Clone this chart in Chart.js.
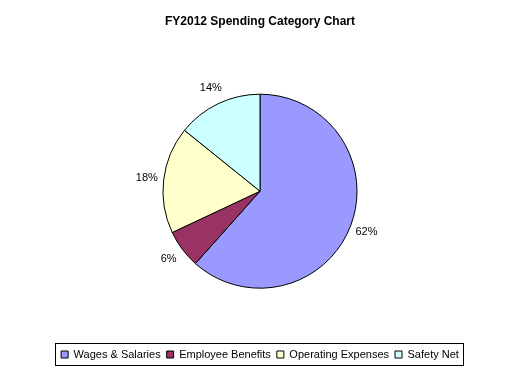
<!DOCTYPE html>
<html>
<head>
<meta charset="utf-8">
<script src="https://cdn.jsdelivr.net/npm/chart.js@4/dist/chart.umd.min.js"></script>
<style>
  html, body { margin: 0; padding: 0; background: #fff; }
  #wrap { width: 520px; height: 373px; position: relative; }
</style>
</head>
<body>
<div id="wrap"><canvas id="chart"></canvas></div>
<script>
const categories = ['Wages & Salaries', 'Employee Benefits', 'Operating Expenses', 'Safety Net'];
const spending = [61.6, 6.4, 17.8, 14.2];
const sliceColors = ['#9999FF', '#993366', '#FFFFCC', '#CCFFFF'];

// percent labels outside each slice
const outsideLabels = {
  id: 'outsideLabels',
  afterDatasetsDraw(chart) {
    const ctx = chart.ctx;
    const meta = chart.getDatasetMeta(0);
    const total = spending.reduce((a, b) => a + b, 0);
    ctx.save();
    ctx.font = '11px "Liberation Sans", Arial, sans-serif';
    ctx.fillStyle = '#000';
    ctx.textAlign = 'center';
    ctx.textBaseline = 'middle';
    meta.data.forEach((arc, i) => {
      const mid = (arc.startAngle + arc.endAngle) / 2;
      const r = arc.outerRadius + 17;
      const x = arc.x + Math.cos(mid) * r;
      const y = arc.y + Math.sin(mid) * r;
      ctx.fillText(Math.round(spending[i] / total * 100) + '%', x, y);
    });
    ctx.restore();
  }
};

// box round the legend
const legendBorder = {
  id: 'legendBorder',
  afterDraw(chart) {
    const boxes = chart.legend.legendHitBoxes;
    if (!boxes || !boxes.length) return;
    const left = Math.min(...boxes.map(b => b.left)) - 6;
    const right = Math.max(...boxes.map(b => b.left + b.width)) + 4;
    const top = Math.min(...boxes.map(b => b.top)) - 6;
    const bottom = Math.max(...boxes.map(b => b.top + b.height)) + 5;
    const ctx = chart.ctx;
    ctx.save();
    ctx.strokeStyle = '#000';
    ctx.lineWidth = 1;
    ctx.strokeRect(Math.round(left) + 0.5, Math.round(top) + 0.5, Math.round(right - left), Math.round(bottom - top));
    ctx.restore();
  }
};

new Chart(document.getElementById('chart'), {
  type: 'pie',
  data: {
    labels: categories,
    datasets: [{
      data: spending,
      backgroundColor: sliceColors,
      borderColor: '#000',
      borderWidth: 1,
      radius: 97
    }]
  },
  options: {
    responsive: true,
    maintainAspectRatio: false,
    animation: false,
    layout: { padding: { top: 0, bottom: 3, left: 0, right: 0 } },
    plugins: {
      title: {
        display: true,
        text: 'FY2012 Spending Category Chart',
        color: '#000',
        font: { family: '"Liberation Sans", Arial, sans-serif', size: 12, weight: 'bold', lineHeight: 1.2 },
        padding: { top: 14, bottom: 11 }
      },
      legend: {
        position: 'bottom',
        labels: {
          color: '#000',
          font: { family: '"Liberation Sans", Arial, sans-serif', size: 11 },
          boxWidth: 7,
          boxHeight: 7,
          padding: 6
        }
      },
      tooltip: { enabled: false }
    }
  },
  plugins: [outsideLabels, legendBorder]
});
</script>
</body>
</html>
